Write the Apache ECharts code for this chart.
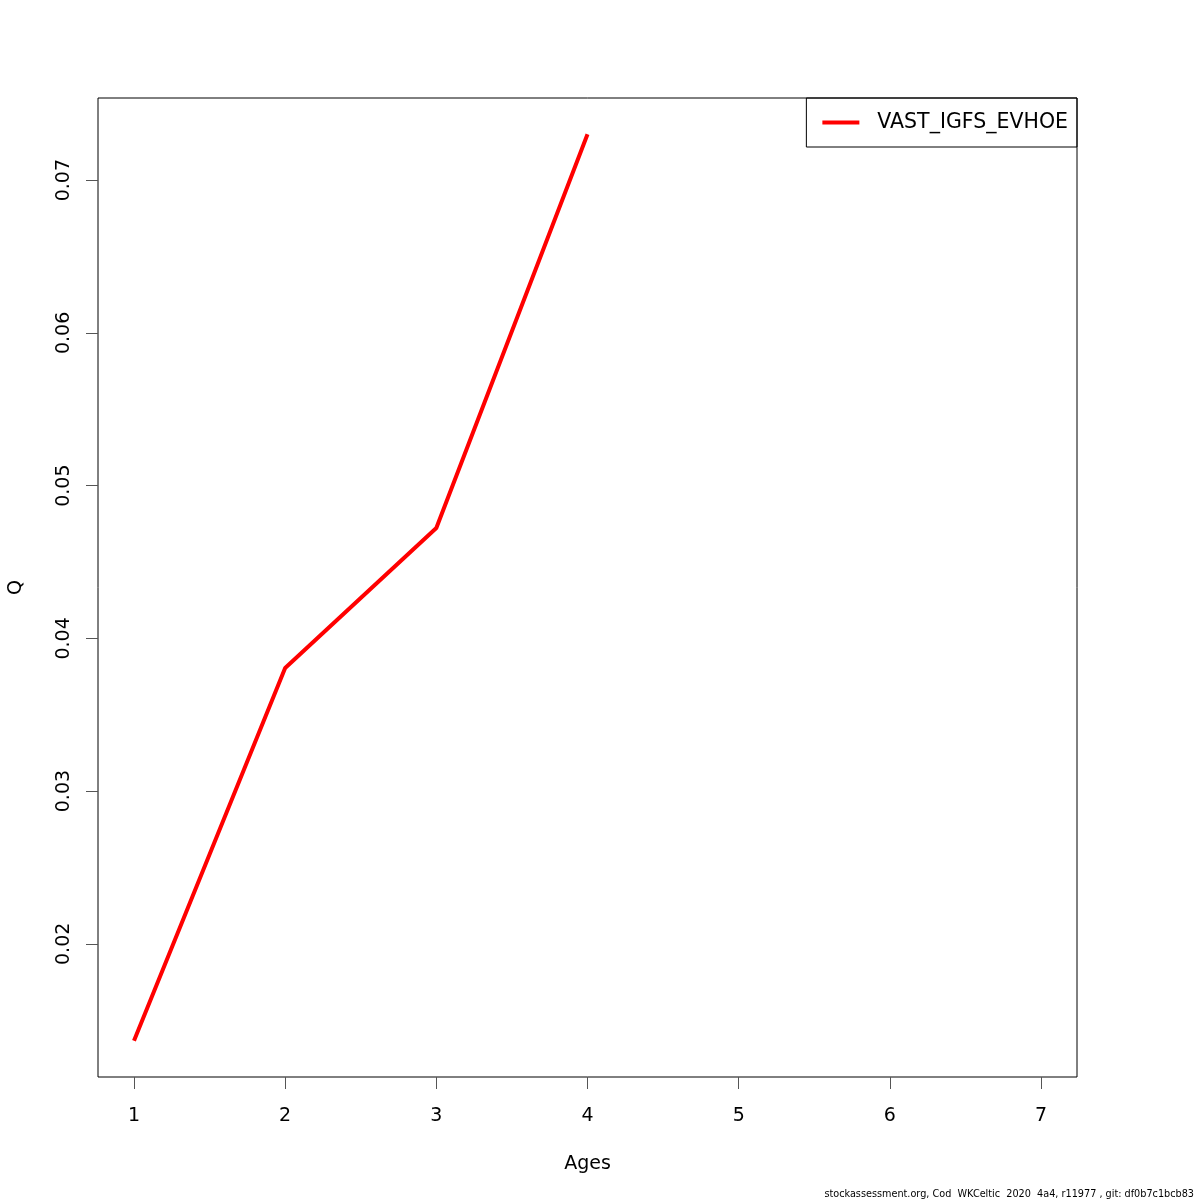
<!DOCTYPE html>
<html>
<head>
<meta charset="utf-8">
<script src="https://cdn.jsdelivr.net/npm/echarts@6/dist/echarts.min.js"></script>
<style>
html,body{margin:0;padding:0;background:#fff;}
#chart{width:1200px;height:1200px;}
</style>
</head>
<body>
<div id="chart"></div>
<script>
const ages = [1, 2, 3, 4];
const qValues = [0.01365, 0.03806, 0.04723, 0.07301];
const xTicks = [1, 2, 3, 4, 5, 6, 7];
const yTicks = [0.02, 0.03, 0.04, 0.05, 0.06, 0.07];
const seriesName = 'VAST_IGFS_EVHOE';
const footer = 'stockassessment.org, Cod  WKCeltic  2020  4a4, r11977 , git: df0b7c1bcb83';

const chart = echarts.init(document.getElementById('chart'), null, {renderer: 'canvas'});
const font = 'DejaVu Sans';
chart.setOption({
  animation: false,
  backgroundColor: '#fff',
  textStyle: {fontFamily: font},
  grid: {left: 98, right: 123, top: 98, bottom: 123, show: true, borderColor: '#000', borderWidth: 1, containLabel: false, outerBoundsMode: 'none'},
  xAxis: {
    type: 'value', min: 0.762, max: 7.238,
    name: 'Ages', nameLocation: 'middle', nameGap: 78,
    nameTextStyle: {fontSize: 19, color: '#000', fontFamily: font},
    axisLine: {show: false},
    splitLine: {show: false},
    axisTick: {show: true, length: 12, lineStyle: {color: '#555'}, customValues: xTicks},
    axisLabel: {fontSize: 19, color: '#000', margin: 30, fontFamily: font, customValues: xTicks, formatter: v => String(v)}
  },
  yAxis: {
    type: 'value', min: 0.01128, max: 0.07538,
    name: 'Q', nameLocation: 'middle', nameGap: 72, nameRotate: 90,
    nameTextStyle: {fontSize: 19, color: '#000', fontFamily: font},
    axisLine: {show: false},
    splitLine: {show: false},
    axisTick: {show: true, length: 12, lineStyle: {color: '#555'}, customValues: yTicks},
    axisLabel: {fontSize: 19, color: '#000', margin: 24, rotate: 90, fontFamily: font, customValues: yTicks, formatter: v => v.toFixed(2)}
  },
  legend: {
    show: true, right: 123, top: 98,
    orient: 'vertical',
    borderColor: '#000', borderWidth: 1, borderRadius: 0,
    padding: [14, 9, 14, 16],
    itemWidth: 37, itemHeight: 22, itemGap: 18,
    textStyle: {fontSize: 20.5, color: '#000', fontFamily: font, padding: [0, 0, 0, 13]},
    data: [{name: seriesName, icon: 'path://M0,9 L37,9 L37,13 L0,13 Z'}]
  },
  graphic: [{
    type: 'text', right: 6, bottom: 1,
    style: {text: footer, fontSize: 9.7, fill: '#000', fontFamily: font}
  }],
  series: [{
    name: seriesName, type: 'line',
    data: ages.map((a, i) => [a, qValues[i]]),
    symbol: 'none',
    lineStyle: {color: '#ff0000', width: 4},
    itemStyle: {color: '#ff0000'}
  }]
});
</script>
</body>
</html>
